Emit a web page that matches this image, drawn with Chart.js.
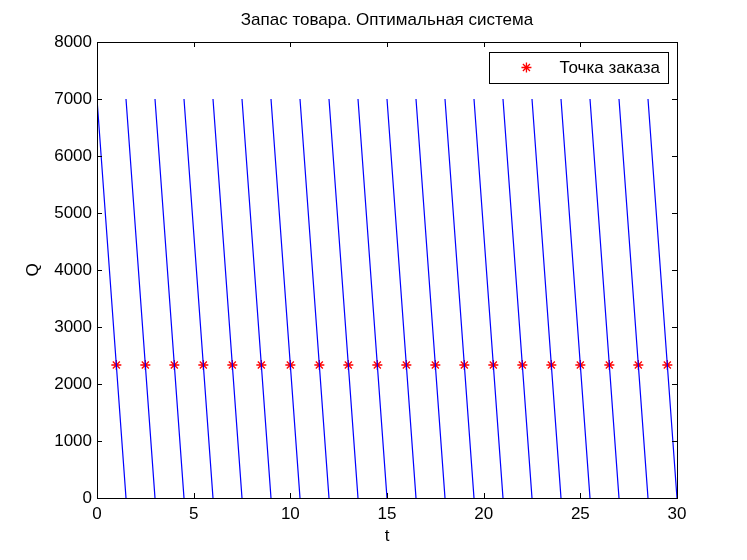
<!DOCTYPE html>
<html>
<head>
<meta charset="utf-8">
<script src="https://cdn.jsdelivr.net/npm/chart.js@4.4.0/dist/chart.umd.min.js"></script>
<style>
  html, body { margin: 0; padding: 0; background: #fff; }
</style>
</head>
<body>
<canvas id="stockChart" width="747" height="560"></canvas>
<script>
// Stock cycles: level drops from the max at cycleStart to zero at cycleEnd
const cycleStart = [0, 1.5, 3, 4.5, 6, 7.5, 9, 10.5, 12, 13.5, 15, 16.5, 18, 19.5, 21, 22.5, 24, 25.5, 27, 28.5];
const cycleEnd = [1.5, 3, 4.5, 6, 7.5, 9, 10.5, 12, 13.5, 15, 16.5, 18, 19.5, 21, 22.5, 24, 25.5, 27, 28.5, 30];
const stockMax = 7000;
const stockMin = 0;

// Order points (red stars)
const orderTimes = [1, 2.5, 4, 5.5, 7, 8.5, 10, 11.5, 13, 14.5, 16, 17.5, 19, 20.5, 22, 23.5, 25, 26.5, 28, 29.5];
const orderLevels = [2333, 2333, 2333, 2333, 2333, 2333, 2333, 2333, 2333, 2333, 2333, 2333, 2333, 2333, 2333, 2333, 2333, 2333, 2333, 2333];

const titleText = 'Запас товара. Оптимальная система';
const legendText = 'Точка заказа';

// each cycle is its own segment, a null point breaks the line
const stockPoints = [];
for (let i = 0; i < cycleStart.length; i++) {
    stockPoints.push({ x: cycleStart[i], y: stockMax });
    stockPoints.push({ x: cycleEnd[i], y: stockMin });
    stockPoints.push({ x: cycleEnd[i], y: null });
}
const orderPoints = orderTimes.map((t, i) => ({ x: t, y: orderLevels[i] }));

const fontFamily = "'Liberation Sans', Arial, sans-serif";
Chart.defaults.font.family = fontFamily;
Chart.defaults.font.size = 17;
Chart.defaults.color = '#000';

// matplotlib-like frame, inward ticks and boxed legend
const framePlugin = {
    id: 'frame',
    afterDraw(chart) {
        const ctx = chart.ctx;
        const area = chart.chartArea;
        const xs = chart.scales.x;
        const ys = chart.scales.y;
        const tick = 5;
        ctx.save();
        ctx.strokeStyle = '#000';
        ctx.lineWidth = 1;
        ctx.beginPath();
        xs.ticks.forEach(t => {
            const px = Math.round(xs.getPixelForValue(t.value)) + 0.5;
            ctx.moveTo(px, area.bottom); ctx.lineTo(px, area.bottom - tick);
            ctx.moveTo(px, area.top); ctx.lineTo(px, area.top + tick);
        });
        ys.ticks.forEach(t => {
            const py = Math.round(ys.getPixelForValue(t.value)) + 0.5;
            ctx.moveTo(area.left, py); ctx.lineTo(area.left + tick, py);
            ctx.moveTo(area.right, py); ctx.lineTo(area.right - tick, py);
        });
        ctx.stroke();
        ctx.strokeRect(Math.round(area.left) + 0.5, Math.round(area.top) + 0.5,
            Math.round(area.right - area.left), Math.round(area.bottom - area.top));

        // legend
        ctx.font = '17px ' + fontFamily;
        const tw = ctx.measureText(legendText).width;
        const boxRight = area.right - 9;
        const boxTop = area.top + 10;
        const boxW = tw + 78;
        const boxH = 31;
        const boxLeft = boxRight - boxW;
        ctx.fillStyle = '#fff';
        ctx.fillRect(boxLeft, boxTop, boxW, boxH);
        ctx.strokeRect(Math.round(boxLeft) + 0.5, Math.round(boxTop) + 0.5, Math.round(boxW), boxH);
        const ds = chart.data.datasets[1];
        ctx.strokeStyle = ds.borderColor;
        ctx.fillStyle = ds.backgroundColor;
        ctx.lineWidth = ds.borderWidth;
        Chart.helpers.drawPoint(ctx, {
            pointStyle: 'star', radius: ds.pointRadius, rotation: 0, borderWidth: ds.borderWidth
        }, boxLeft + 37, boxTop + boxH / 2);
        ctx.fillStyle = '#000';
        ctx.textBaseline = 'middle';
        ctx.textAlign = 'left';
        ctx.fillText(legendText, boxLeft + 70, boxTop + boxH / 2 + 1);
        ctx.restore();
    }
};

const config = {
    type: 'line',
    data: {
        datasets: [{
            label: 'Q',
            data: stockPoints,
            borderColor: '#0000ff',
            borderWidth: 1.2,
            pointRadius: 0,
            spanGaps: false,
            fill: false,
            tension: 0
        }, {
            label: legendText,
            data: orderPoints,
            showLine: false,
            borderColor: '#ff0000',
            backgroundColor: '#ff0000',
            borderWidth: 1.3,
            pointStyle: 'star',
            pointRadius: 5,
            pointHoverRadius: 5
        }]
    },
    options: {
        responsive: false,
        animation: false,
        devicePixelRatio: 1,
        layout: { padding: { left: 0, right: 70, top: 0, bottom: 0 } },
        plugins: {
            legend: { display: false },
            tooltip: { enabled: false },
            title: {
                display: true,
                text: titleText,
                fullSize: false,
                font: { size: 17, weight: 'normal' },
                padding: { top: 10, bottom: 11.6 },
                color: '#000'
            }
        },
        scales: {
            x: {
                type: 'linear',
                min: 0,
                max: 30,
                grid: { display: false, drawTicks: false },
                border: { display: false },
                ticks: { stepSize: 5, padding: 6, maxRotation: 0, callback: v => String(v) },
                title: { display: true, text: 't', padding: { top: 0, bottom: 13 } },
                afterFit(scale) { scale.height = 62; }
            },
            y: {
                type: 'linear',
                min: 0,
                max: 8000,
                grid: { display: false, drawTicks: false },
                border: { display: false },
                ticks: { stepSize: 1000, padding: 5, callback: v => String(v) },
                title: { display: true, text: 'Q', padding: { top: 23, bottom: 0 } },
                afterFit(scale) { scale.width = 97; }
            }
        }
    },
    plugins: [framePlugin]
};

const stockChart = new Chart(document.getElementById('stockChart'), config);
</script>
</body>
</html>
